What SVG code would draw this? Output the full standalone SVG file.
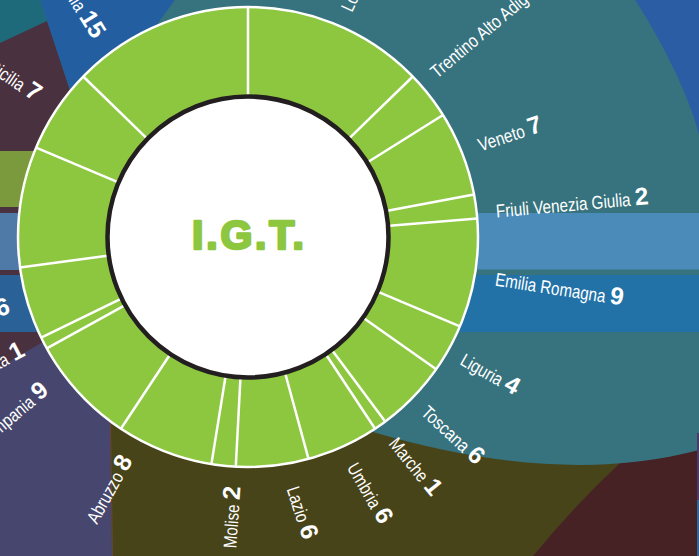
<svg xmlns="http://www.w3.org/2000/svg" width="699" height="556" viewBox="0 0 699 556">
<style>
.nm{font-family:'Liberation Sans',Arial,sans-serif;font-size:18.5px;fill:#ffffff}
.nv{font-family:'Liberation Sans',Arial,sans-serif;font-weight:bold;font-size:24.5px;fill:#ffffff}
.div{stroke:#ffffff;stroke-width:2.5}
.end{text-anchor:end}
</style>
<g id="background">
<rect width="699" height="556" fill="#48441a"/>
<path d="M533,556 Q575,505 620,463 L640,420 L699,420 L699,556 Z" fill="#472225"/>
<path d="M0,0 H699 V450 Q560,487 373,432 L300,400 L0,400 Z" fill="#37737e"/>
<rect x="697" y="433" width="2" height="67" fill="#4c3a69"/>
<rect x="697" y="500" width="2" height="56" fill="#2a67a3"/>
<path d="M635,0 C655,30 688,90 699,135 V0 Z" fill="#2a5da3"/>
<rect x="250" y="213" width="449" height="56.5" fill="#4a8bb9"/>
<rect x="250" y="275" width="449" height="57" fill="#2272a8"/>
<path d="M0,20 L47,20 L70,90 L200,237 L80,360 L0,380 Z" fill="#4a3140"/>
<path d="M40,0 L175,0 L158,23 L200,237 L70,90 Z" fill="#235fa0"/>
<path d="M0,0 L40,0 L47,21 L0,43 Z" fill="#1e6a7a"/>
<rect x="0" y="151" width="200" height="56" fill="#7b9a3e"/>
<rect x="0" y="213" width="200" height="57" fill="#4f7aa8"/>
<rect x="0" y="275" width="200" height="57" fill="#2a6297"/>
<path d="M0,367 L60,332 L110,380 L110,425 L112,556 L0,556 Z" fill="#46466e"/>
<line x1="110.5" y1="422" x2="112.5" y2="556" stroke="#6a4535" stroke-width="1"/>
</g>
<g id="igt-ring">
<circle cx="248" cy="237" r="230" fill="#8dc63f"/>
<g id="dividers" class="div">
<line x1="248" y1="97" x2="248" y2="6"/>
<line x1="349.7" y1="137.9" x2="412.8" y2="76.5"/>
<line x1="368.4" y1="161.7" x2="443.0" y2="115.0"/>
<line x1="387.5" y1="210.7" x2="474.0" y2="194.4"/>
<line x1="389.5" y1="225.7" x2="477.3" y2="218.6"/>
<line x1="378.8" y1="292.2" x2="459.9" y2="326.4"/>
<line x1="364.2" y1="318.6" x2="436.2" y2="369.2"/>
<line x1="332.7" y1="351.0" x2="385.2" y2="421.6"/>
<line x1="326.5" y1="355.3" x2="375.1" y2="428.7"/>
<line x1="285.4" y1="374.0" x2="308.5" y2="458.9"/>
<line x1="240.4" y1="378.8" x2="235.8" y2="466.7"/>
<line x1="225.4" y1="377.2" x2="211.4" y2="464.1"/>
<line x1="169.5" y1="355.3" x2="120.9" y2="428.7"/>
<line x1="123.8" y1="305.8" x2="46.8" y2="348.4"/>
<line x1="120.3" y1="299.1" x2="41.2" y2="337.6"/>
<line x1="107.3" y1="255.8" x2="20.0" y2="267.5"/>
<line x1="117.2" y1="181.8" x2="36.1" y2="147.6"/>
<line x1="146.3" y1="137.9" x2="83.2" y2="76.5"/>
</g>
<circle cx="248" cy="237" r="230" fill="none" stroke="#ffffff" stroke-width="2.5"/>
</g>
<g id="center">
<circle cx="248" cy="237" r="140.5" fill="#ffffff" stroke="#231f20" stroke-width="4.5"/>
<text x="248" y="248.8" text-anchor="middle" textLength="112" lengthAdjust="spacing" font-family="'Liberation Sans',Arial,sans-serif" font-weight="bold" font-size="41" fill="#8dc63f" stroke="#8dc63f" stroke-width="2.6" stroke-linejoin="round">I.G.T.</text>
</g>
<g id="labels">
<text class="nm" transform="translate(352,13) rotate(-65)"><tspan textLength="71.7" lengthAdjust="spacingAndGlyphs">Lombardia</tspan><tspan class="nv" dx="4.5">15</tspan></text>
<text class="nm" transform="translate(437,79) rotate(-40)"><tspan textLength="129" lengthAdjust="spacingAndGlyphs">Trentino Alto Adige</tspan></text>
<text class="nm" transform="translate(480.5,151.5) rotate(-18)"><tspan textLength="48.1" lengthAdjust="spacingAndGlyphs">Veneto</tspan><tspan class="nv" dx="4.5">7</tspan></text>
<text class="nm" transform="translate(496.5,217.5) rotate(-5)"><tspan textLength="135" lengthAdjust="spacingAndGlyphs">Friuli Venezia Giulia</tspan><tspan class="nv" dx="4.5">2</tspan></text>
<text class="nm" transform="translate(494.5,285.5) rotate(8.8)"><tspan textLength="111.3" lengthAdjust="spacingAndGlyphs">Emilia Romagna</tspan><tspan class="nv" dx="4.5">9</tspan></text>
<text class="nm" transform="translate(459,364) rotate(29.6)"><tspan textLength="45.5" lengthAdjust="spacingAndGlyphs">Liguria</tspan><tspan class="nv" dx="4.5">4</tspan></text>
<text class="nm" transform="translate(420,413.7) rotate(43)"><tspan textLength="58.2" lengthAdjust="spacingAndGlyphs">Toscana</tspan><tspan class="nv" dx="4.5">6</tspan></text>
<text class="nm" transform="translate(388,444) rotate(51)"><tspan textLength="50.6" lengthAdjust="spacingAndGlyphs">Marche</tspan><tspan class="nv" dx="4.5">1</tspan></text>
<text class="nm" transform="translate(346.6,467.6) rotate(60)"><tspan textLength="48.9" lengthAdjust="spacingAndGlyphs">Umbria</tspan><tspan class="nv" dx="4.5">6</tspan></text>
<text class="nm" transform="translate(286.4,489) rotate(72)"><tspan textLength="36.3" lengthAdjust="spacingAndGlyphs">Lazio</tspan><tspan class="nv" dx="4.5">6</tspan></text>
<text class="nm" transform="translate(236.2,548.5) rotate(-86)"><tspan textLength="43.8" lengthAdjust="spacingAndGlyphs">Molise</tspan><tspan class="nv" dx="4.5">2</tspan></text>
<text class="nm" transform="translate(97,525) rotate(-60.7)"><tspan textLength="55.6" lengthAdjust="spacingAndGlyphs">Abruzzo</tspan><tspan class="nv" dx="4.5">8</tspan></text>
<text class="nm end" transform="translate(50,392.6) rotate(-40)"><tspan textLength="69.1" lengthAdjust="spacingAndGlyphs">Campania</tspan><tspan class="nv" dx="4.5">9</tspan></text>
<text class="nm end" transform="translate(26.3,355.2) rotate(-27.5)"><tspan textLength="64.9" lengthAdjust="spacingAndGlyphs">Basilicata</tspan><tspan class="nv" dx="4.5">1</tspan></text>
<text class="nm end" transform="translate(11.2,313.1) rotate(-16.8)"><tspan textLength="56.5" lengthAdjust="spacingAndGlyphs">Calabria</tspan><tspan class="nv" dx="4.5">6</tspan></text>
<text class="nm end" transform="translate(34.7,102) rotate(34)"><tspan textLength="39.6" lengthAdjust="spacingAndGlyphs">Sicilia</tspan><tspan class="nv" dx="4.5">7</tspan></text>
<text class="nm end" transform="translate(93,40) rotate(58)"><tspan textLength="42.2" lengthAdjust="spacingAndGlyphs">Puglia</tspan><tspan class="nv" dx="4.5">15</tspan></text>
</g>
</svg>
